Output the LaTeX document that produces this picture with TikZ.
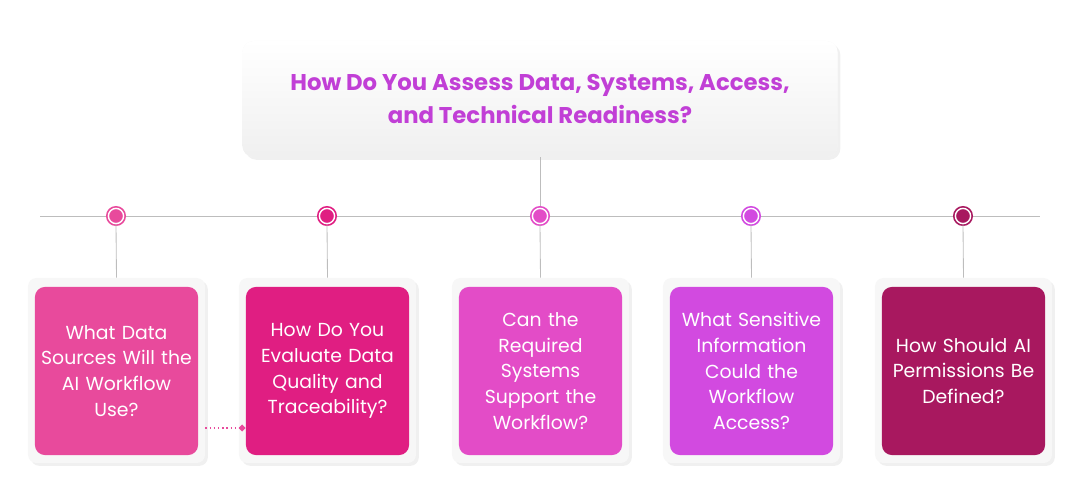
\documentclass[tikz,border=0pt]{standalone}
\usepackage{fontspec}
\setmainfont{Poppins}
\usetikzlibrary{shapes, positioning, calc, shadows, arrows.meta}

\definecolor{linegray}{HTML}{BDBDBD}
\definecolor{titlepurple}{HTML}{C13FD6}
\definecolor{qa}{HTML}{E84A9C}
\definecolor{qb}{HTML}{E01E82}
\definecolor{qc}{HTML}{E34CC7}
\definecolor{qd}{HTML}{D24AE0}
\definecolor{qe}{HTML}{A8185F}

\tikzset{
  frame/.style={draw=none, fill=gray!6, rounded corners=6pt, drop shadow={opacity=0.12, shadow xshift=2pt, shadow yshift=-2pt}},
  question/.style={rounded corners=7pt, inner sep=0pt, minimum width=4.075cm, minimum height=4.2cm, text width=4cm, align=center, text=white, font=\fontsize{13.4}{18.4}\selectfont},
  dot/.style={circle, draw=white, line width=1.2pt, minimum size=0.38cm, inner sep=0pt},
  link/.style={draw=linegray, line width=0.6pt}
}

\begin{document}
\begin{tikzpicture}[x=0.025cm, y=-0.025cm]
  \useasboundingbox (0,0) rectangle (1080,504);

  % title
  \node[frame, rounded corners=8pt, top color=white, bottom color=gray!12, minimum width=14.875cm, minimum height=2.9cm] at (540,99) (title) {};
  \node[text=titlepurple, align=center, font=\fontsize{16.2}{23.4}\selectfont\bfseries] at (540,99) (titletext) {How Do You Assess Data, Systems, Access,\\and Technical Readiness?};

  % timeline
  \coordinate (tl-left) at (40,216);
  \coordinate (tl-right) at (1040,216);
  \coordinate (tl-mid) at (540,216);
  \draw[link] (tl-left) -- (tl-right);
  \draw[link] (title.south) -- (tl-mid);

  \foreach \x/\col/\txt [count=\i] in {
    116/qa/{What Data\\Sources Will the\\AI Workflow\\Use?},
    327/qb/{How Do You\\Evaluate Data\\Quality and\\Traceability?},
    540/qc/{Can the\\Required\\Systems\\Support the\\Workflow?},
    751/qd/{What Sensitive\\Information\\Could the\\Workflow\\Access?},
    963/qe/{How Should AI\\Permissions Be\\Defined?}}{
    \node[frame, minimum width=4.425cm, minimum height=4.625cm] at (\x+0.5,370.5) (frame\i) {};
    \node[question, fill=\col] at (\x+0.5,371) (q\i) {\txt};
    \node[dot, fill=\col, draw=\col, double=white, double distance=1pt] at (\x,216) (dot\i) {};
    \draw[link] (dot\i.south) -- (frame\i.north);
  }

  % dotted hint between the first two cards
  \coordinate (hint) at (frame1.east |- 0,428);
  \draw[qa, dotted, line width=1pt, -{Diamond[length=5pt, width=5pt]}] (hint) -- (hint -| q2.west);
\end{tikzpicture}
\end{document}
